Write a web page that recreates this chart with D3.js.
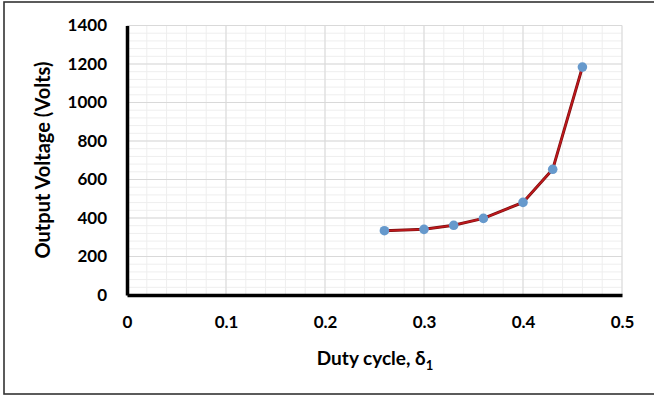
<!DOCTYPE html>
<html>
<head>
<meta charset="utf-8">
<script src="https://cdn.jsdelivr.net/npm/d3@7/dist/d3.min.js"></script>
<style>
  html, body { margin: 0; padding: 0; background: #fff; }
  svg { display: block; }
  text { font-family: Lato, "Open Sans", sans-serif; font-weight: bold; fill: #000; }
</style>
</head>
<body>
<svg id="chart" width="654" height="396"></svg>
<script>
// Output voltage versus duty cycle
const dutyCycle = [0.26, 0.30, 0.33, 0.36, 0.40, 0.43, 0.46];
const outputVoltage = [334, 341, 362, 398, 481, 653, 1184];
const xTicks = [0, 0.1, 0.2, 0.3, 0.4, 0.5];
const yTicks = [0, 200, 400, 600, 800, 1000, 1200, 1400];

const W = 654, H = 396;
const margin = { left: 127, right: 32, top: 25.5, bottom: 101 };
const svg = d3.select("#chart");

// outer frame
svg.append("rect")
  .attr("x", 4).attr("y", 2).attr("width", 670).attr("height", 392)
  .attr("fill", "#fff").attr("stroke", "#333").attr("stroke-width", 1.6);

const x = d3.scaleLinear().domain([0, 0.5]).range([margin.left, W - margin.right]);
const y = d3.scaleLinear().domain([0, 1400]).range([H - margin.bottom, margin.top]);

const grid = svg.append("g");
// minor gridlines
const xMinor = d3.range(0, 0.5001, 0.02);
const yMinor = d3.range(0, 1400.1, 40);
grid.selectAll(".xm").data(xMinor).join("line")
  .attr("x1", d => x(d)).attr("x2", d => x(d))
  .attr("y1", y(0)).attr("y2", y(1400))
  .attr("stroke", "#eeeeee").attr("stroke-width", 1);
grid.selectAll(".ym").data(yMinor).join("line")
  .attr("x1", x(0)).attr("x2", x(0.5))
  .attr("y1", d => y(d)).attr("y2", d => y(d))
  .attr("stroke", "#eeeeee").attr("stroke-width", 1);
// major gridlines
grid.selectAll(".xM").data(xTicks).join("line")
  .attr("x1", d => x(d)).attr("x2", d => x(d))
  .attr("y1", y(0)).attr("y2", y(1400))
  .attr("stroke", "#d9d9d9").attr("stroke-width", 1);
grid.selectAll(".yM").data(yTicks).join("line")
  .attr("x1", x(0)).attr("x2", x(0.5))
  .attr("y1", d => y(d)).attr("y2", d => y(d))
  .attr("stroke", "#d9d9d9").attr("stroke-width", 1);

// axes
const xAxis = svg.append("g")
  .attr("transform", `translate(0,${y(0)})`)
  .call(d3.axisBottom(x).tickValues(xTicks).tickSize(0).tickPadding(21)
    .tickFormat(d => d === 0 ? "0" : d3.format(".1f")(d)));
xAxis.select(".domain").attr("stroke", "#000").attr("stroke-width", 3.5);
xAxis.selectAll("text").style("font-size", "17px");

const yAxis = svg.append("g")
  .attr("transform", `translate(${x(0)},0)`)
  .call(d3.axisLeft(y).tickValues(yTicks).tickSize(0).tickPadding(20)
    .tickFormat(d3.format("d")));
yAxis.select(".domain").attr("stroke", "#000").attr("stroke-width", 3.5);
yAxis.selectAll("text").style("font-size", "17px");

// series
const line = d3.line().x((d, i) => x(dutyCycle[i])).y(d => y(d));
svg.append("path").datum(outputVoltage)
  .attr("d", line).attr("fill", "none")
  .attr("stroke", "#7a1010").attr("stroke-width", 3);
svg.append("path").datum(outputVoltage)
  .attr("d", line).attr("fill", "none")
  .attr("stroke", "#c0181c").attr("stroke-width", 1.6);
svg.selectAll(".pt").data(outputVoltage).join("circle")
  .attr("cx", (d, i) => x(dutyCycle[i])).attr("cy", d => y(d))
  .attr("r", 4.8).attr("fill", "#6699cc");

// axis titles
const xt = svg.append("text")
  .attr("x", 375).attr("y", 365).attr("text-anchor", "middle")
  .style("font-size", "19px");
xt.append("tspan").text("Duty cycle, δ");
xt.append("tspan").attr("dy", 5).style("font-size", "13px").text("1");

svg.append("text")
  .attr("transform", `translate(50,160) rotate(-90)`)
  .attr("text-anchor", "middle")
  .style("font-size", "20px")
  .text("Output Voltage (Volts)");
</script>
</body>
</html>
